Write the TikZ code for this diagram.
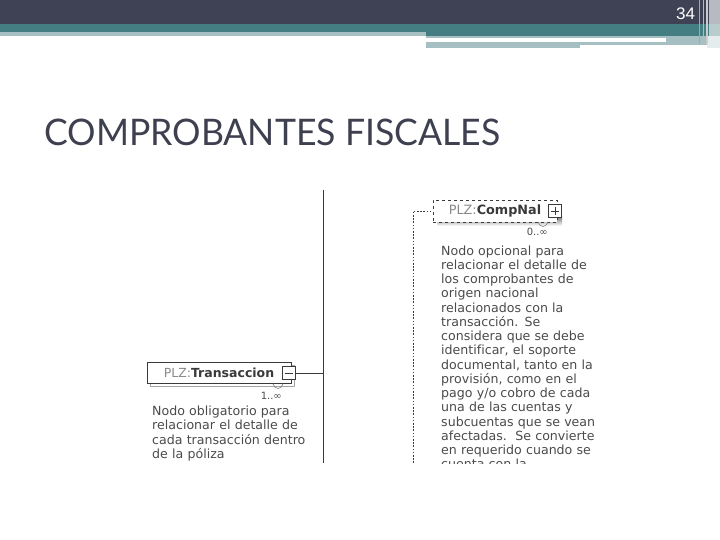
\documentclass[tikz,border=0pt]{standalone}
\usepackage{fontspec}
\usepackage{graphicx}
\setmainfont{DejaVu Sans}[Ligatures={NoCommon}]
\newfontfamily\titlefont{Lato}
\newfontfamily\numfont{Liberation Sans}
\definecolor{hdark}{HTML}{3F4154}
\definecolor{hteal}{HTML}{457E82}
\definecolor{hlight}{HTML}{A6BFC2}
\definecolor{hedge}{HTML}{B9B9C3}
\definecolor{titlec}{HTML}{3E4050}
\definecolor{desc}{HTML}{4A4A4A}
\definecolor{plzc}{HTML}{8A8A8A}
\definecolor{boxline}{HTML}{3A3A3A}
\definecolor{shade}{HTML}{C4C4C4}
\tikzset{
  tbox/.style={draw=boxline, fill=white, line width=0.8pt, minimum width=144pt, minimum height=21pt, inner sep=0pt, font=\fontsize{12.5}{14}\selectfont},
  cbox/.style={draw=boxline, fill=white, dashed, line width=0.8pt, minimum width=124pt, minimum height=22pt, inner sep=0pt, font=\fontsize{12.8}{14}\selectfont},
  pmbox/.style={draw=boxline, fill=white, line width=0.9pt, minimum size=13pt, inner sep=0pt},
  conn/.style={draw=boxline, line width=0.9pt},
  dotconn/.style={draw=boxline, line width=0.9pt, dash pattern=on 1.6pt off 1.6pt},
  desctext/.style={anchor=base west, inner sep=0pt, text=desc, text width=220pt, align=left, font=\fontsize{12.6}{14.25}\selectfont},
  occ/.style={anchor=base east, inner sep=0pt, text=desc, font=\fontsize{10}{12}\selectfont},
}
\begin{document}
\begin{tikzpicture}[x=1pt,y=-1pt]
\useasboundingbox (0,0) rectangle (720,540);
% header bars
\fill[hdark] (0,0) rectangle (720,24);
\fill[hteal] (0,24) rectangle (720,32);
\fill[hlight] (0,32) rectangle (426,35.7);
\fill[hteal] (426,32) rectangle (720,35.7);
\fill[hlight] (426,35.7) rectangle (707,44.7);
\fill[hlight] (426,44.7) rectangle (580,48.5);
\fill[white] (426,38.5) rectangle (666,41.6);
\fill[hedge] (709,0) rectangle (720,24);
\fill[hlight!80!white] (709,24) rectangle (720,36);
\fill[hlight!30!white] (707,36) rectangle (720,48);
\fill[gray!70] (698.5,0) rectangle (700,44);
\fill[gray!55] (702.5,0) rectangle (704,44);
\fill[gray!40] (705.5,0) rectangle (708,44);
\node[anchor=south west, inner sep=0pt, text=white] (num) at (676,20) {\resizebox{19pt}{11.7pt}{\numfont 34}};
% title
\node[anchor=base west, inner sep=0pt, text=titlec] (title) at (44,146) {\resizebox{456pt}{26.5pt}{\titlefont COMPROBANTES FISCALES}};
% main vertical line
\coordinate (vt) at (323.5,190);
\coordinate (vb) at (323.5,463);
\draw[conn] (vt) -- (vb);
% Transaccion element
\draw[draw=gray!70, fill=white, line width=0.8pt] (150.5,365.5) rectangle (294.5,386.5);
\node[tbox] (trans) at (219,372.5) {\textcolor{plzc}{PLZ:}\textbf{\textcolor{boxline}{Transaccion}}\hspace{8pt}};
\node[pmbox] (minus) at (288.5,373) {};
\draw[conn] ([xshift=-4pt]minus.center) -- ([xshift=4pt]minus.center);
\draw[conn] (minus.east) -- (minus.east -| vt);
\draw[draw=gray, line width=0.6pt] (273,384) .. controls (275,390) and (281,390) .. (283,384);
\node[occ] (tocc) at (282,399.5) {1..∞};
\node[desctext] (tdesc) at (152,415.5) {Nodo obligatorio para\\relacionar el detalle de\\cada transacción dentro\\de la póliza};
% CompNal element
\fill[shade] (437,217) rectangle (562,226);
\node[cbox] (comp) at (495,211) {\textcolor{plzc}{PLZ:}\textbf{\textcolor{boxline}{CompNal}}\hspace{12pt}};
\node[pmbox] (plus) at (555,211) {};
\draw[conn] ([xshift=-4pt]plus.center) -- ([xshift=4pt]plus.center);
\draw[conn] ([yshift=-4pt]plus.center) -- ([yshift=4pt]plus.center);
\draw[draw=gray, line width=0.6pt] (538,222) .. controls (540,228) and (546,228) .. (548,222);
\node[occ] (cocc) at (548,235.5) {0..∞};
\coordinate (dbot) at (413,463);
\draw[dotconn] (dbot) |- (comp.west);
\begin{scope}
\clip (430,240) rectangle (640,463);
\node[desctext] (cdesc) at (441,255) {Nodo opcional para\\relacionar el detalle de\\los comprobantes de\\origen nacional\\relacionados con la\\transacción. Se\\considera que se debe\\identificar, el soporte\\documental, tanto en la\\provisión, como en el\\pago y/o cobro de cada\\una de las cuentas y\\subcuentas que se vean\\afectadas.\ \ Se convierte\\en requerido cuando se\\cuenta con la};
\end{scope}
\end{tikzpicture}
\end{document}
